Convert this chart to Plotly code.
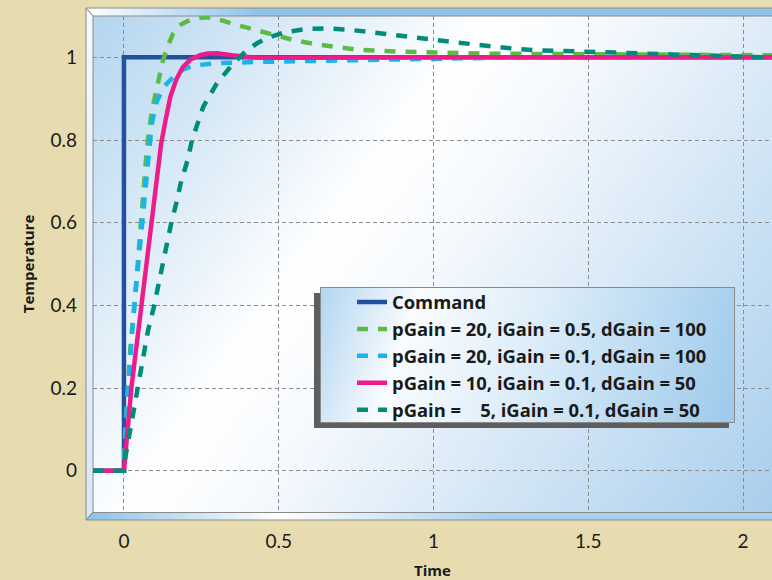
import base64
import plotly.graph_objects as go

# ---------------- data ----------------
series_names = [
    "Command",
    "pGain = 20, iGain = 0.5, dGain = 100",
    "pGain = 20, iGain = 0.1, dGain = 100",
    "pGain = 10, iGain = 0.1, dGain = 50",
    "pGain =\u00a0\u00a0\u00a0\u00a05, iGain = 0.1, dGain = 50",
]

t_command = [-0.1, 0.0, 0.0, 2.1]
y_command = [0.0, 0.0, 1.0, 1.0]

t_p20_i05 = [-0.1, 0, 0.004, 0.011, 0.022, 0.034, 0.044, 0.053, 0.062, 0.072, 0.079, 0.09,
             0.106, 0.127, 0.143, 0.159, 0.185, 0.213, 0.24, 0.267, 0.3, 0.332, 0.37, 0.407,
             0.45, 0.488, 0.552, 0.617, 0.687, 0.757, 0.89, 1.03, 1.16, 1.4, 1.7, 2.1]
y_p20_i05 = [0, 0, 0.1, 0.2, 0.31, 0.403, 0.5, 0.6, 0.67, 0.76, 0.81, 0.87,
             0.925, 0.995, 1.03, 1.058, 1.08, 1.09, 1.095, 1.097, 1.093, 1.085, 1.077, 1.07,
             1.061, 1.053, 1.041, 1.032, 1.024, 1.018, 1.014, 1.011, 1.009, 1.008, 1.007, 1.005]

t_p20_i01 = [-0.1, 0, 0.005, 0.013, 0.025, 0.036, 0.047, 0.059, 0.069, 0.079, 0.09, 0.106,
             0.13, 0.159, 0.19, 0.224, 0.3, 0.44, 0.58, 0.72, 0.9, 1.2, 1.6, 2.1]
y_p20_i01 = [0, 0, 0.1, 0.2, 0.32, 0.42, 0.51, 0.6, 0.69, 0.775, 0.84, 0.893,
             0.93, 0.952, 0.97, 0.98, 0.986, 0.989, 0.991, 0.994, 0.997, 0.999, 1.0, 1.0]

t_p10_i01 = [-0.1, 0, 0.024, 0.055, 0.088, 0.105, 0.12, 0.135, 0.15, 0.17, 0.19, 0.215,
             0.246, 0.27, 0.3, 0.35, 0.41, 0.5, 0.7, 1.0, 1.5, 2.1]
y_p10_i01 = [0, 0, 0.2, 0.39, 0.6, 0.71, 0.79, 0.85, 0.905, 0.948, 0.976, 0.995,
             1.005, 1.009, 1.01, 1.005, 1.0, 0.999, 1.0, 1.0, 1.0, 1.0]

t_p5_i01 = [-0.1, 0, 0.005, 0.018, 0.03, 0.043, 0.056, 0.078, 0.096, 0.11, 0.135, 0.153,
            0.169, 0.185, 0.205, 0.22, 0.256, 0.3, 0.353, 0.397, 0.43, 0.46, 0.515, 0.59,
            0.655, 0.724, 0.795, 0.86, 0.93, 0.995, 1.063, 1.134, 1.2, 1.27, 1.34, 1.41,
            1.48, 1.55, 1.615, 1.687, 1.754, 1.82, 1.89, 2.03, 2.1]
y_p5_i01 = [0, 0, 0.035, 0.09, 0.145, 0.2, 0.244, 0.34, 0.394, 0.445, 0.542, 0.6,
            0.647, 0.7, 0.75, 0.8, 0.88, 0.937, 0.985, 1.017, 1.034, 1.046, 1.06, 1.069,
            1.07, 1.067, 1.061, 1.056, 1.049, 1.043, 1.037, 1.031, 1.025, 1.02, 1.017, 1.016,
            1.014, 1.013, 1.011, 1.009, 1.007, 1.005, 1.003, 1.001, 1.0]

x_tickvals = [0, 0.5, 1, 1.5, 2]
x_ticktext = ["0", "0.5", "1", "1.5", "2"]
y_tickvals = [0, 0.2, 0.4, 0.6, 0.8, 1]
y_ticktext = ["0", "0.2", "0.4", "0.6", "0.8", "1"]

# ---------------- style ----------------
W, H = 772, 580
ML, MR, MT, MB = 93, 0, 16, 68
PW, PH = W - ML - MR, H - MT - MB

colors = ["#2450A0", "#5DBA47", "#19B4EC", "#EC1C8C", "#008C78"]
dashes = ["solid", "11px,10px", "11px,10px", "solid", "11px,10px"]
widths = [4.5, 4.5, 4.5, 4.5, 4.5]

fig = go.Figure()
for name, tx, ty, c, d, w in zip(
        series_names,
        [t_command, t_p20_i05, t_p20_i01, t_p10_i01, t_p5_i01],
        [y_command, y_p20_i05, y_p20_i01, y_p10_i01, y_p5_i01],
        colors, dashes, widths):
    fig.add_trace(go.Scatter(x=tx, y=ty, mode="lines", name=name,
                             line=dict(color=c, dash=d, width=w)))

# background frame (bevel + gradient) as SVG
bg_svg = f'''<svg xmlns="http://www.w3.org/2000/svg" width="{W}" height="{H}" viewBox="0 0 {W} {H}" preserveAspectRatio="none">
<defs>
<linearGradient id="pg" gradientUnits="userSpaceOnUse" x1="93" y1="16" x2="772" y2="512">
<stop offset="0" stop-color="#B3D5EF"/>
<stop offset="0.38" stop-color="#FFFFFF"/>
<stop offset="0.5" stop-color="#F5F9FD"/>
<stop offset="1" stop-color="#A9CEEC"/>
</linearGradient>
<linearGradient id="tg" gradientUnits="userSpaceOnUse" x1="86" y1="0" x2="260" y2="0">
<stop offset="0" stop-color="#FFFFFF"/><stop offset="1" stop-color="#8FC3E9"/>
</linearGradient>
<linearGradient id="lg" gradientUnits="userSpaceOnUse" x1="0" y1="8" x2="0" y2="520">
<stop offset="0" stop-color="#F4F9FD"/><stop offset="1" stop-color="#D6E9F7"/>
</linearGradient>
<linearGradient id="bg" gradientUnits="userSpaceOnUse" x1="86" y1="0" x2="772" y2="0">
<stop offset="0" stop-color="#8CC2E8"/><stop offset="0.28" stop-color="#FFFFFF"/>
<stop offset="0.6" stop-color="#A6D0EE"/><stop offset="1" stop-color="#A6D0EE"/>
</linearGradient>
</defs>
<rect x="93" y="16" width="679" height="496" fill="url(#pg)"/>
<polygon points="86,8 773,8 773,16 93,16" fill="url(#tg)" stroke="#8A8A8A" stroke-width="1"/>
<polygon points="86,8 93,16 93,512 86,520" fill="url(#lg)" stroke="#8A8A8A" stroke-width="1"/>
<polygon points="86,520 93,512.5 773,512.5 773,520" fill="url(#bg)" stroke="#8A8A8A" stroke-width="1"/>
</svg>'''

leg_svg = f'''<svg xmlns="http://www.w3.org/2000/svg" width="{W}" height="{H}" viewBox="0 0 {W} {H}" preserveAspectRatio="none">
<defs>
<linearGradient id="lgd" gradientUnits="userSpaceOnUse" x1="320" y1="287" x2="734" y2="423">
<stop offset="0" stop-color="#B0D5F0"/>
<stop offset="0.22" stop-color="#FAFCFE"/>
<stop offset="0.5" stop-color="#DDEDF9"/>
<stop offset="1" stop-color="#9CCAEB"/>
</linearGradient>
</defs>
<rect x="314" y="293" width="415" height="135" fill="#5E5E5E"/>
<rect x="320.5" y="287.5" width="414" height="135" fill="url(#lgd)" stroke="#8A8A8A" stroke-width="1"/>
</svg>'''


def uri(s):
    return "data:image/svg+xml;base64," + base64.b64encode(s.encode()).decode()


img_common = dict(xref="paper", yref="paper", x=-ML / PW, y=1 + MT / PH,
                  sizex=W / PW, sizey=H / PH, sizing="stretch",
                  xanchor="left", yanchor="top", opacity=1)
fig.add_layout_image(source=uri(bg_svg), layer="below", **img_common)
fig.add_layout_image(source=uri(leg_svg), layer="above", **img_common)

tick_fam = "Lato"
bold_fam = "Open Sans"
grid = dict(showgrid=True, gridcolor="#8C8C8C", gridwidth=1, griddash="4px,3px",
            zeroline=False, showline=False, ticks="", automargin=False)

fig.update_layout(
    width=W, height=H,
    margin=dict(l=ML, r=MR, t=MT, b=MB, pad=0, autoexpand=False),
    paper_bgcolor="#E7DCAF",
    plot_bgcolor="rgba(0,0,0,0)",
    font=dict(family=tick_fam, color="#1A1A1A", size=18),
    showlegend=True,
    legend=dict(x=(352 - ML) / PW, y=(H - MB - 283.5) / PH, xanchor="left", yanchor="top",
                bgcolor="rgba(0,0,0,0)", borderwidth=0,
                font=dict(family=bold_fam, size=18.4, color="#1A1A1A", weight="bold"),
                tracegroupgap=0),
    xaxis=dict(range=[-0.1, 2.0937], tickvals=x_tickvals, ticktext=x_ticktext,
               ticklabelstandoff=16,
               tickfont=dict(family=tick_fam, size=19, color="#1A1A1A"),
               title=dict(text="Time", standoff=14,
                          font=dict(family=bold_fam, size=15, color="#1A1A1A", weight="bold")),
               **grid),
    yaxis=dict(range=[-0.1, 1.1], tickvals=y_tickvals, ticktext=y_ticktext,
               ticklabelstandoff=15,
               tickfont=dict(family=tick_fam, size=19, color="#1A1A1A"),
               title=dict(text="Temperature", standoff=12,
                          font=dict(family=bold_fam, size=15, color="#1A1A1A", weight="bold")),
               **grid),
)

fig.write_html("out.html",
               config={"displayModeBar": False},
               post_script="document.body.style.margin='0px';"
                           "document.body.style.overflow='hidden';")
